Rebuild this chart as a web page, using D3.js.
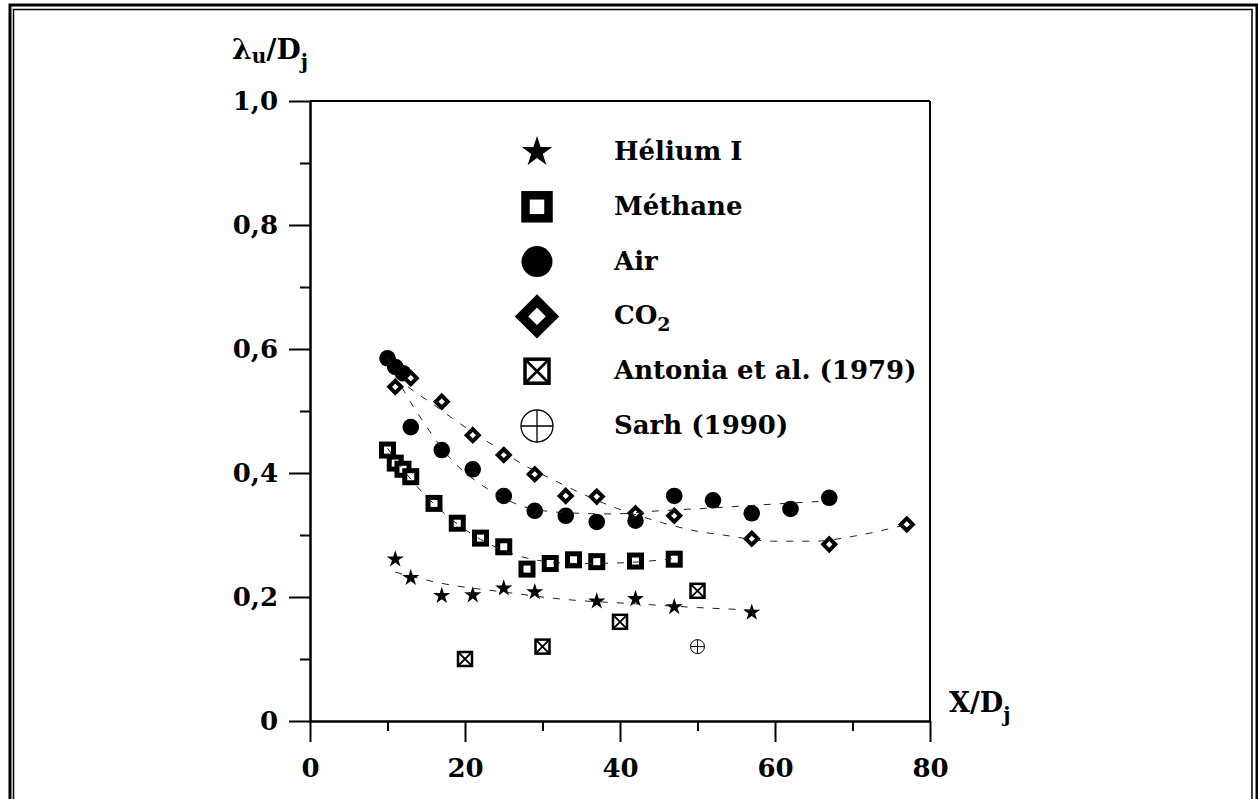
<!DOCTYPE html>
<html>
<head>
<meta charset="utf-8">
<script src="https://cdn.jsdelivr.net/npm/d3@7"></script>
<style>
  body { margin: 0; background: #fff; }
  text { font-family: "DejaVu Serif", serif; font-weight: bold; fill: #000; }
</style>
</head>
<body>
<svg id="chart"></svg>
<script>
const heliumX = [11, 13, 17, 21, 25, 29, 37, 42, 47, 57];
const heliumY = [0.261, 0.231, 0.202, 0.203, 0.214, 0.208, 0.193, 0.197, 0.184, 0.175];

const methaneX = [10, 11, 12, 13, 16, 19, 22, 25, 28, 31, 34, 37, 42, 47];
const methaneY = [0.437, 0.416, 0.406, 0.394, 0.351, 0.319, 0.295, 0.281, 0.245, 0.254, 0.260, 0.257, 0.258, 0.261];

const airX = [10, 11, 12, 13, 17, 21, 25, 29, 33, 37, 42, 47, 52, 57, 62, 67];
const airY = [0.585, 0.571, 0.561, 0.474, 0.437, 0.406, 0.363, 0.339, 0.331, 0.321, 0.323, 0.363, 0.356, 0.335, 0.342, 0.360];

const co2X = [11, 13, 17, 21, 25, 29, 33, 37, 42, 47, 57, 67, 77];
const co2Y = [0.539, 0.553, 0.515, 0.461, 0.429, 0.398, 0.363, 0.362, 0.335, 0.331, 0.294, 0.285, 0.317];

const antoniaX = [20, 30, 40, 50];
const antoniaY = [0.100, 0.120, 0.160, 0.210];

const sarhX = [50];
const sarhY = [0.120];

// courbes d'ajustement (pointillés)
const heliumFitX = [11, 17, 25, 33, 42, 50, 57];
const heliumFitY = [0.240, 0.222, 0.208, 0.196, 0.189, 0.183, 0.179];

const methaneFitX = [10, 13, 16, 19, 22, 26, 30, 35, 40, 47];
const methaneFitY = [0.440, 0.390, 0.350, 0.318, 0.293, 0.270, 0.258, 0.254, 0.255, 0.262];

const airFitX = [10, 12, 14.5, 18, 22.7, 28.4, 33, 39, 45, 51, 60, 67];
const airFitY = [0.585, 0.535, 0.485, 0.425, 0.376, 0.343, 0.336, 0.334, 0.339, 0.343, 0.350, 0.355];

const co2FitX = [11, 13.5, 16, 18.5, 23.6, 28, 31.4, 34, 39.6, 44.3, 50, 53.3, 59.7, 65, 71, 77];
const co2FitY = [0.555, 0.531, 0.510, 0.487, 0.445, 0.410, 0.389, 0.373, 0.343, 0.324, 0.306, 0.300, 0.290, 0.290, 0.300, 0.317];

// axes
const xMajor = [0, 20, 40, 60, 80];
const xMinor = [10, 30, 50, 70];
const yMajor = [0, 0.2, 0.4, 0.6, 0.8, 1.0];
const yMinor = [0.1, 0.3, 0.5, 0.7, 0.9];
const yTickLabels = ["0", "0,2", "0,4", "0,6", "0,8", "1,0"];

const legendLabels = ["Hélium I", "Méthane", "Air", "CO2", "Antonia et al. (1979)", "Sarh (1990)"];
const legendTypes = ["star", "square", "circle", "diamond", "xsquare", "oplus"];

const W = 1258, H = 799;

const svg = d3.select("#chart")
  .attr("width", W)
  .attr("height", H);

svg.append("rect").attr("width", W).attr("height", H).attr("fill", "#fff");

// double cadre
svg.append("rect")
  .attr("x", 10).attr("y", 5).attr("width", 1247).attr("height", 820)
  .attr("fill", "none").attr("stroke", "#000").attr("stroke-width", 3);
svg.append("rect")
  .attr("x", 13.5).attr("y", 9.5).attr("width", 1238.5).attr("height", 820)
  .attr("fill", "none").attr("stroke", "#000").attr("stroke-width", 1.5);

const x = d3.scaleLinear().domain([0, 80]).range([310, 930]);
const y = d3.scaleLinear().domain([0, 1]).range([721, 101]);

function styleAxis(g) {
  g.selectAll("path.domain, line").attr("stroke", "#000").attr("stroke-width", 2);
  g.selectAll("text").attr("font-size", 26).attr("font-family", null);
}

// axe X
svg.append("g")
  .attr("transform", `translate(0,${y(0)})`)
  .call(d3.axisBottom(x).tickValues(xMajor).tickSize(21).tickSizeOuter(0).tickPadding(17).tickFormat(d3.format("d")))
  .call(styleAxis);
svg.append("g")
  .attr("transform", `translate(0,${y(0)})`)
  .call(d3.axisBottom(x).tickValues(xMinor).tickSize(10).tickSizeOuter(0).tickFormat(""))
  .call(styleAxis);

// axe Y
svg.append("g")
  .attr("transform", `translate(${x(0)},0)`)
  .call(d3.axisLeft(y).tickValues(yMajor).tickSize(21).tickSizeOuter(0).tickPadding(11)
    .tickFormat((d, i) => yTickLabels[i]))
  .call(styleAxis);
svg.append("g")
  .attr("transform", `translate(${x(0)},0)`)
  .call(d3.axisLeft(y).tickValues(yMinor).tickSize(10).tickSizeOuter(0).tickFormat(""))
  .call(styleAxis);

// cadre haut et droit
svg.append("line")
  .attr("x1", x(0)).attr("x2", x(80)).attr("y1", y(1)).attr("y2", y(1))
  .attr("stroke", "#000").attr("stroke-width", 2);
svg.append("line")
  .attr("x1", x(80)).attr("x2", x(80)).attr("y1", y(1)).attr("y2", y(0))
  .attr("stroke", "#000").attr("stroke-width", 2);

// titres des axes
const yTitle = svg.append("text").attr("x", 232).attr("y", 59).attr("font-size", 28);
yTitle.append("tspan").text("λ");
yTitle.append("tspan").attr("font-size", 20).attr("dy", 4).text("u");
yTitle.append("tspan").attr("dy", -4).text("/D");
yTitle.append("tspan").attr("font-size", 20).attr("dy", 10).text("j");

const xTitle = svg.append("text").attr("x", 949).attr("y", 712).attr("font-size", 27);
xTitle.append("tspan").text("X/D");
xTitle.append("tspan").attr("font-size", 20).attr("dy", 10).text("j");

// symboles
const dataSize = {
  star: { r: 9 }, square: { s: 12, w: 5 }, circle: { r: 8.3 },
  diamond: { s: 6, w: 4 }, xsquare: { s: 14, w: 2.5 }, oplus: { r: 7, w: 1 }
};
const legendSize = {
  star: { r: 16 }, square: { s: 23, w: 8.5 }, circle: { r: 15.5 },
  diamond: { s: 15.5, w: 9.5 }, xsquare: { s: 24, w: 3.5 }, oplus: { r: 16, w: 1.3 }
};

function drawMarker(g, type, cx, cy, sz) {
  const p = sz[type];
  const m = g.append("g").attr("transform", `translate(${cx},${cy})`);
  if (type === "star") {
    m.append("path")
      .attr("d", d3.symbol().type(d3.symbolStar).size(p.r * p.r / 0.8908130915)())
      .attr("fill", "#000");
  } else if (type === "square") {
    m.append("rect")
      .attr("x", -p.s / 2).attr("y", -p.s / 2).attr("width", p.s).attr("height", p.s)
      .attr("fill", "#fff").attr("stroke", "#000").attr("stroke-width", p.w);
  } else if (type === "circle") {
    m.append("circle").attr("r", p.r).attr("fill", "#000");
  } else if (type === "diamond") {
    m.append("path")
      .attr("d", `M0,${-p.s}L${p.s},0L0,${p.s}L${-p.s},0Z`)
      .attr("fill", "#fff").attr("stroke", "#000").attr("stroke-width", p.w)
      .attr("stroke-linejoin", "miter");
  } else if (type === "xsquare") {
    const a = p.s / 2;
    m.append("rect")
      .attr("x", -a).attr("y", -a).attr("width", p.s).attr("height", p.s)
      .attr("fill", "#fff").attr("stroke", "#000").attr("stroke-width", p.w);
    m.append("path")
      .attr("d", `M${-a},${-a}L${a},${a}M${a},${-a}L${-a},${a}`)
      .attr("stroke", "#000").attr("stroke-width", p.w * 0.75);
  } else if (type === "oplus") {
    m.append("circle").attr("r", p.r)
      .attr("fill", "#fff").attr("stroke", "#000").attr("stroke-width", p.w);
    m.append("path")
      .attr("d", `M${-p.r},0L${p.r},0M0,${-p.r}L0,${p.r}`)
      .attr("stroke", "#000").attr("stroke-width", p.w);
  }
}

const series = [
  { type: "square", xs: methaneX, ys: methaneY },
  { type: "circle", xs: airX, ys: airY },
  { type: "diamond", xs: co2X, ys: co2Y },
  { type: "star", xs: heliumX, ys: heliumY },
  { type: "xsquare", xs: antoniaX, ys: antoniaY },
  { type: "oplus", xs: sarhX, ys: sarhY }
];

const marks = svg.append("g");
series.forEach(s => {
  s.xs.forEach((v, i) => drawMarker(marks, s.type, x(v), y(s.ys[i]), dataSize));
});

// courbes en pointillés
const fits = [
  [heliumFitX, heliumFitY],
  [methaneFitX, methaneFitY],
  [airFitX, airFitY],
  [co2FitX, co2FitY]
];
const line = d3.line()
  .x(d => x(d[0]))
  .y(d => y(d[1]))
  .curve(d3.curveMonotoneX);
fits.forEach(([xs, ys]) => {
  svg.append("path")
    .attr("d", line(xs.map((v, i) => [v, ys[i]])))
    .attr("fill", "none")
    .attr("stroke", "#222")
    .attr("stroke-width", 1)
    .attr("stroke-dasharray", "7,9");
});

// légende
const legend = svg.append("g");
legendLabels.forEach((label, i) => {
  const cy = 152 + i * 54.8;
  drawMarker(legend, legendTypes[i], 537, cy, legendSize);
  const t = legend.append("text").attr("x", 614).attr("y", cy + 8).attr("font-size", 26);
  if (label === "CO2") {
    t.append("tspan").text("CO");
    t.append("tspan").attr("font-size", 19).attr("dy", 7).text("2");
  } else {
    t.text(label);
  }
});
</script>
</body>
</html>
